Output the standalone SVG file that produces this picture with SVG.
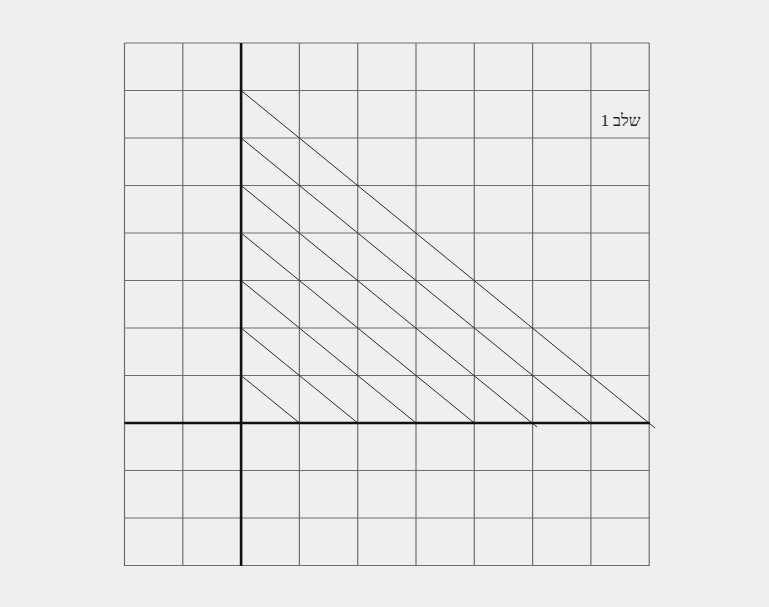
<svg xmlns="http://www.w3.org/2000/svg" width="769" height="607" viewBox="0 0 769 607">
<style>
.grid line{stroke:#6e6e6e;stroke-width:1.2}
.axes line{stroke:#111;stroke-width:2.6}
.diag line{stroke:#2a2a2a;stroke-width:1}
.lbl{font-family:"Liberation Serif","DejaVu Serif",serif;font-size:16.5px;fill:#222}
</style>
<rect width="769" height="607" fill="#efefef"/>
<g id="grid" class="grid">
<line x1="124.5" y1="43" x2="124.5" y2="566"/>
<line x1="182.8" y1="43" x2="182.8" y2="566"/>
<line x1="299.4" y1="43" x2="299.4" y2="566"/>
<line x1="357.7" y1="43" x2="357.7" y2="566"/>
<line x1="416" y1="43" x2="416" y2="566"/>
<line x1="474.3" y1="43" x2="474.3" y2="566"/>
<line x1="532.6" y1="43" x2="532.6" y2="566"/>
<line x1="590.9" y1="43" x2="590.9" y2="566"/>
<line x1="649.2" y1="43" x2="649.2" y2="566"/>
<line x1="124.5" y1="43" x2="649.2" y2="43"/>
<line x1="124.5" y1="90.5" x2="649.2" y2="90.5"/>
<line x1="124.5" y1="138" x2="649.2" y2="138"/>
<line x1="124.5" y1="185.5" x2="649.2" y2="185.5"/>
<line x1="124.5" y1="233" x2="649.2" y2="233"/>
<line x1="124.5" y1="280.5" x2="649.2" y2="280.5"/>
<line x1="124.5" y1="328" x2="649.2" y2="328"/>
<line x1="124.5" y1="375.5" x2="649.2" y2="375.5"/>
<line x1="124.5" y1="470.5" x2="649.2" y2="470.5"/>
<line x1="124.5" y1="518" x2="649.2" y2="518"/>
<line x1="124.5" y1="565.5" x2="649.2" y2="565.5"/>
</g>
<g id="connectors" class="diag">
<line x1="241.1" y1="90.5" x2="655" y2="428"/>
<line x1="241.1" y1="138" x2="590.9" y2="423"/>
<line x1="241.1" y1="185.5" x2="537" y2="427"/>
<line x1="241.1" y1="233" x2="474.3" y2="423"/>
<line x1="241.1" y1="280.5" x2="416" y2="423"/>
<line x1="241.1" y1="328" x2="357.7" y2="423"/>
<line x1="241.1" y1="375.5" x2="299.4" y2="423"/>
</g>
<g id="axes" class="axes">
<line x1="241.1" y1="43" x2="241.1" y2="566"/>
<line x1="124.5" y1="423" x2="650" y2="423"/>
</g>
<g id="label">
<text class="lbl" x="620.5" y="126" text-anchor="middle" direction="rtl" unicode-bidi="embed">שלב 1</text>
</g>
</svg>
